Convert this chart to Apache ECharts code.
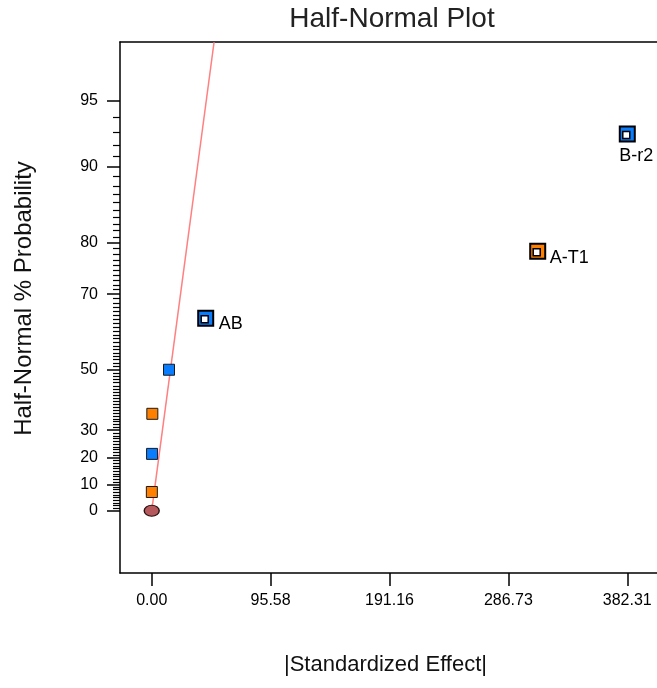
<!DOCTYPE html>
<html>
<head>
<meta charset="utf-8">
<title>Half-Normal Plot</title>
<script src="https://cdn.jsdelivr.net/npm/echarts@6/dist/echarts.min.js"></script>
<style>
  html, body { margin: 0; padding: 0; background: #ffffff; }
  #chart { width: 657px; height: 688px; }
</style>
</head>
<body>
<div id="chart"></div>
<script>
// Model terms: |standardized effect| and half-normal % probability rank
const termNames = ['', '', '', '', 'AB', 'A-T1', 'B-r2'];
const termEffects = [0.1, 0.3, 0.5, 13.9, 43.4, 310.3, 382.31];
const termProbabilities = [7.14, 21.43, 35.71, 50.0, 64.29, 78.57, 92.86];
const termSigns = ['+', '-', '+', '-', '-', '+', '-'];

// Error estimate point at the origin
const errorEffects = [0];
const errorProbabilities = [0];

// Reference line through the small effects
const fitLineEffects = [0, 50.1];
const fitLineProbabilities = [0, 97.5];

// Axis ticks
const xTickValues = [0, 95.58, 191.16, 286.73, 382.31];
const yTickLabels = [0, 10, 20, 30, 50, 70, 80, 90, 95];
const yMinorTicks = [];
for (let p = 1; p < 95; p++) if (yTickLabels.indexOf(p) < 0) yMinorTicks.push(p);

// Inverse standard normal CDF (Acklam's rational approximation)
function normInv(p) {
  const a = [-3.969683028665376e+01, 2.209460984245205e+02, -2.759285104469687e+02,
             1.383577518672690e+02, -3.066479806614716e+01, 2.506628277459239e+00];
  const b = [-5.447609879822406e+01, 1.615858368580409e+02, -1.556989798598866e+02,
             6.680131188771972e+01, -1.328068155288572e+01];
  const c = [-7.784894002430293e-03, -3.223964580411365e-01, -2.400758277161838e+00,
             -2.549732539343734e+00, 4.374664141464968e+00, 2.938163982698783e+00];
  const d = [7.784695709041462e-03, 3.224671290700398e-01, 2.445134137142996e+00,
             3.754408661907416e+00];
  const pl = 0.02425;
  let q, r;
  if (p < pl) {
    q = Math.sqrt(-2 * Math.log(p));
    return (((((c[0]*q+c[1])*q+c[2])*q+c[3])*q+c[4])*q+c[5]) / ((((d[0]*q+d[1])*q+d[2])*q+d[3])*q+1);
  }
  if (p <= 1 - pl) {
    q = p - 0.5; r = q * q;
    return (((((a[0]*r+a[1])*r+a[2])*r+a[3])*r+a[4])*r+a[5])*q / (((((b[0]*r+b[1])*r+b[2])*r+b[3])*r+b[4])*r+1);
  }
  q = Math.sqrt(-2 * Math.log(1 - p));
  return -(((((c[0]*q+c[1])*q+c[2])*q+c[3])*q+c[4])*q+c[5]) / ((((d[0]*q+d[1])*q+d[2])*q+d[3])*q+1);
}
// Half-normal probability scale: percent -> normal score
const halfNormal = pct => normInv(0.5 + pct / 200);

const FONT = "'Liberation Sans', Arial, Helvetica, sans-serif";
const signColor = { '+': '#ff8000', '-': '#0a7dff' };
const labelPlacement = {
  'AB':   { align: 'left',   offset: [13, 6] },
  'A-T1': { align: 'left',   offset: [12, 7] },
  'B-r2': { align: 'center', offset: [9, 22] }
};

const yMajorZ = yTickLabels.map(halfNormal);
const yMinorZ = yMinorTicks.map(halfNormal);
function yLabel(z) {
  let best = 0;
  yMajorZ.forEach((v, i) => { if (Math.abs(v - z) < Math.abs(yMajorZ[best] - z)) best = i; });
  return String(yTickLabels[best]);
}

const termData = termEffects.map((x, i) => {
  const labelled = termNames[i] !== '';
  const item = {
    name: termNames[i],
    value: [x, halfNormal(termProbabilities[i])],
    symbolSize: labelled ? 15 : 11,
    itemStyle: {
      color: signColor[termSigns[i]],
      borderColor: labelled ? '#000000' : '#1a1a1a',
      borderWidth: labelled ? 2 : 1,
      opacity: 1
    }
  };
  if (labelled) {
    const pl = labelPlacement[termNames[i]];
    item.label = {
      show: true, formatter: termNames[i], position: 'inside',
      align: pl.align, verticalAlign: 'middle', offset: pl.offset,
      fontSize: 18, color: '#000000', fontFamily: FONT
    };
  }
  return item;
});
const innerData = [];
termEffects.forEach((x, i) => {
  if (termNames[i] !== '') innerData.push([x, halfNormal(termProbabilities[i])]);
});

const axisLineStyle = { color: '#000000', width: 1.5 };
const X_MIN = -25.5, X_MAX = 406.2;
const Z_MIN = -0.298, Z_MAX = 2.2426;

const chart = echarts.init(document.getElementById('chart'), null, { renderer: 'canvas' });
chart.setOption({
  backgroundColor: '#ffffff',
  animation: false,
  title: {
    text: 'Half-Normal Plot',
    left: 387, top: 0, textAlign: 'center',
    textStyle: { fontSize: 28, fontWeight: 'normal', color: '#222222', fontFamily: FONT }
  },
  grid: { left: 120, right: 0, top: 42, bottom: 115 },
  xAxis: [{
    type: 'value', min: X_MIN, max: X_MAX, position: 'bottom',
    axisLine: { show: true, onZero: false, lineStyle: axisLineStyle },
    axisTick: { show: true, customValues: xTickValues, length: 13, lineStyle: axisLineStyle },
    axisLabel: {
      customValues: xTickValues, formatter: v => v.toFixed(2),
      fontSize: 16, color: '#000000', fontFamily: FONT, margin: 20
    },
    splitLine: { show: false },
    name: '|Standardized Effect|', nameLocation: 'middle', nameGap: 81,
    nameTextStyle: { fontSize: 22, color: '#111111', fontFamily: FONT, padding: [0, 6, 0, 0] }
  }, {
    type: 'value', min: X_MIN, max: X_MAX, position: 'top',
    axisLine: { show: true, onZero: false, lineStyle: axisLineStyle },
    axisTick: { show: false }, axisLabel: { show: false }, splitLine: { show: false }
  }],
  yAxis: [{
    type: 'value', min: Z_MIN, max: Z_MAX, position: 'left',
    axisLine: { show: true, onZero: false, lineStyle: axisLineStyle },
    axisTick: { show: true, customValues: yMajorZ, length: 13, lineStyle: axisLineStyle },
    axisLabel: {
      customValues: yMajorZ, formatter: yLabel,
      fontSize: 16, color: '#000000', fontFamily: FONT, margin: 22
    },
    splitLine: { show: false },
    name: 'Half-Normal % Probability', nameLocation: 'middle', nameGap: 84, nameRotate: 90,
    nameTextStyle: { fontSize: 24, color: '#111111', fontFamily: FONT, padding: [0, 0, 0, 18] }
  }, {
    type: 'value', min: Z_MIN, max: Z_MAX, position: 'left', offset: 0,
    axisLine: { show: false, onZero: false },
    axisTick: { show: true, customValues: yMinorZ, length: 7, lineStyle: { color: '#000000', width: 1.2 } },
    axisLabel: { show: false }, splitLine: { show: false }
  }],
  series: [{
    type: 'line', name: 'fit',
    data: fitLineEffects.map((x, i) => [x, halfNormal(fitLineProbabilities[i])]),
    showSymbol: false, silent: true, clip: true,
    lineStyle: { color: '#ff8080', width: 1.5 }, z: 1
  }, {
    type: 'scatter', name: 'error',
    data: errorEffects.map((x, i) => [x, halfNormal(errorProbabilities[i])]),
    symbol: 'circle', symbolSize: [15, 11],
    itemStyle: { color: '#b5595c', borderColor: '#2a1010', borderWidth: 1.2, opacity: 1 }, z: 3
  }, {
    type: 'scatter', name: 'terms', data: termData, symbol: 'rect', z: 3
  }, {
    type: 'scatter', name: 'termsInner', data: innerData, symbol: 'rect',
    symbolSize: 7, symbolOffset: [-1, 1], silent: true,
    itemStyle: { color: '#ffffff', borderColor: '#000000', borderWidth: 1.5, opacity: 1 }, z: 4
  }]
});
</script>
</body>
</html>
